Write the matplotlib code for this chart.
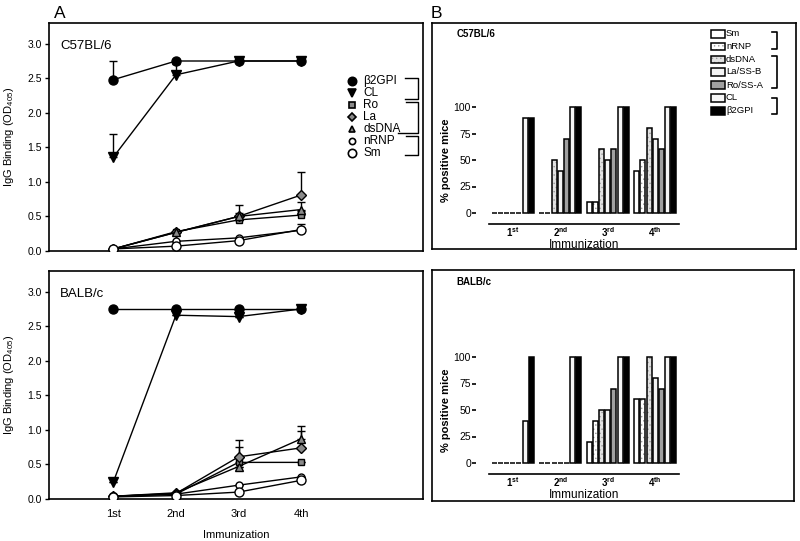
import numpy as np
import matplotlib
matplotlib.use('Agg')
import matplotlib.pyplot as plt
from matplotlib.lines import Line2D
from matplotlib.patches import Rectangle

plt.rcParams['font.family'] = ['Liberation Sans', 'DejaVu Sans']
plt.rcParams['mathtext.fontset'] = 'custom'
plt.rcParams['mathtext.rm'] = 'Liberation Sans'
plt.rcParams['mathtext.bf'] = 'Liberation Sans:bold'
plt.rcParams['hatch.linewidth'] = 0.5

# ---- panel A data (IgG binding, OD405) ----
immunizations = ['1st', '2nd', '3rd', '4th']
line_antigens = ['β2GPI', 'CL', 'Ro', 'La', 'dsDNA', 'nRNP', 'Sm']

c57_b2gpi = [2.48, 2.75, 2.75, 2.75]
c57_cl = [1.36, 2.55, 2.75, 2.75]
c57_ro = [0.03, 0.28, 0.45, 0.52]
c57_la = [0.03, 0.27, 0.50, 0.81]
c57_dsdna = [0.03, 0.27, 0.50, 0.60]
c57_nrnp = [0.03, 0.14, 0.19, 0.30]
c57_sm = [0.03, 0.07, 0.15, 0.31]
c57_err = {
    'β2GPI': [0.27, 0, 0, 0], 'CL': [0.34, 0.15, 0, 0], 'Ro': [0, 0, 0, 0.06],
    'La': [0, 0, 0.17, 0.33], 'dsDNA': [0, 0, 0.05, 0.11], 'nRNP': [0, 0, 0, 0.09], 'Sm': [0, 0, 0, 0],
}

balb_b2gpi = [2.75, 2.75, 2.75, 2.75]
balb_cl = [0.25, 2.66, 2.64, 2.75]
balb_ro = [0.04, 0.07, 0.53, 0.53]
balb_la = [0.04, 0.08, 0.61, 0.74]
balb_dsdna = [0.04, 0.09, 0.47, 0.87]
balb_nrnp = [0.04, 0.07, 0.20, 0.32]
balb_sm = [0.03, 0.05, 0.10, 0.27]
balb_err = {
    'β2GPI': [0, 0, 0, 0], 'CL': [0, 0, 0, 0], 'Ro': [0, 0, 0.22, 0],
    'La': [0, 0, 0.25, 0.25], 'dsDNA': [0, 0, 0, 0.19], 'nRNP': [0, 0, 0, 0], 'Sm': [0, 0, 0, 0],
}

# ---- panel B data (% positive mice) ----
bar_antigens = ['Sm', 'nRNP', 'dsDNA', 'La/SS-B', 'Ro/SS-A', 'CL', 'β2GPI']
c57_pos_sm = [0, 0, 10, 40]
c57_pos_nrnp = [0, 0, 10, 50]
c57_pos_dsdna = [0, 50, 60, 80]
c57_pos_la = [0, 40, 50, 70]
c57_pos_ro = [0, 70, 60, 60]
c57_pos_cl = [90, 100, 100, 100]
c57_pos_b2gpi = [90, 100, 100, 100]

balb_pos_sm = [0, 0, 20, 60]
balb_pos_nrnp = [0, 0, 40, 60]
balb_pos_dsdna = [0, 0, 50, 100]
balb_pos_la = [0, 0, 50, 80]
balb_pos_ro = [0, 0, 70, 70]
balb_pos_cl = [40, 100, 100, 100]
balb_pos_b2gpi = [100, 100, 100, 100]

bar_ticklabels = [r'$\mathbf{1^{st}}$', r'$\mathbf{2^{nd}}$', r'$\mathbf{3^{rd}}$', r'$\mathbf{4^{th}}$']

line_styles = {
    'β2GPI': dict(marker='o', mfc='black', ms=6.5),
    'CL': dict(marker='v', mfc='black', ms=6.5),
    'Ro': dict(marker='s', mfc='#8a8a8a', ms=5),
    'La': dict(marker='D', mfc='#8a8a8a', ms=5),
    'dsDNA': dict(marker='^', mfc='#8a8a8a', ms=5.5),
    'nRNP': dict(marker='o', mfc='white', ms=5),
    'Sm': dict(marker='o', mfc='white', ms=6.5),
}
bar_styles = {
    'Sm': dict(color='white', hatch=None),
    'nRNP': dict(color='white', hatch='....'),
    'dsDNA': dict(color='#e2e2e2', hatch='....'),
    'La/SS-B': dict(color='#f3f3f3', hatch=None),
    'Ro/SS-A': dict(color='#a0a0a0', hatch=None),
    'CL': dict(color='#f6f6f6', hatch=None),
    'β2GPI': dict(color='black', hatch=None),
}

W, H = 800, 541
fig = plt.figure(figsize=(8, 5.41), dpi=100)


def px_axes(l, t, r, b):
    return fig.add_axes([l / W, 1 - b / H, (r - l) / W, (b - t) / H])


def line_panel(ax, series, errs, strain, show_x):
    x = np.arange(1, 5)
    for name, vals in zip(line_antigens, series):
        st = line_styles[name]
        e = np.array(errs[name], dtype=float)
        ax.errorbar(x, vals, yerr=[np.zeros(4), e], color='black', lw=1, elinewidth=1,
                    capsize=3, capthick=1, marker=st['marker'], mfc=st['mfc'], mec='black',
                    ms=st['ms'], mew=1, zorder=3)
    ax.set_xlim(-0.03, 5.95)
    ax.set_ylim(0, 3.3)
    ax.set_yticks([0, 0.5, 1.0, 1.5, 2.0, 2.5, 3.0])
    ax.set_yticklabels(['0.0', '0.5', '1.0', '1.5', '2.0', '2.5', '3.0'])
    ax.tick_params(axis='y', labelsize=7.5, length=3, width=1, pad=2)
    if show_x:
        ax.set_xticks(x)
        ax.set_xticklabels(immunizations)
        ax.tick_params(axis='x', labelsize=8, length=0, pad=7)
        ax.set_xlabel('Immunization', fontsize=8, labelpad=8)
    else:
        ax.set_xticks([])
    for s in ax.spines.values():
        s.set_linewidth(1.2)
    ax.set_ylabel('IgG Binding (OD$_{405}$)', fontsize=8, labelpad=8)
    ax.text(0.03, 0.9, strain, transform=ax.transAxes, fontsize=9.5, va='center')


def bar_panel(ax, series, strain_ax, strain):
    g = np.arange(4)
    step = 0.13
    w = 0.105
    for k, (name, vals) in enumerate(zip(bar_antigens, series)):
        st = bar_styles[name]
        xs = g + (k - 3) * step
        if st['hatch']:
            # dotted fill drawn in grey, outline in black on top
            ax.bar(xs, vals, width=w, color=st['color'], hatch=st['hatch'],
                   edgecolor='#9a9a9a', linewidth=0, clip_on=False, zorder=2)
            ax.bar(xs, vals, width=w, fill=False, edgecolor='black', linewidth=1.1,
                   clip_on=False, zorder=3)
        else:
            ax.bar(xs, vals, width=w, color=st['color'], edgecolor='black', linewidth=1.1,
                   clip_on=False, zorder=2)
    ax.set_xlim(-0.5, 3.5)
    ax.set_ylim(0, 100)
    ax.set_yticks([0, 25, 50, 75, 100])
    ax.tick_params(axis='y', labelsize=7.5, length=3, width=1.2, pad=1)
    for lab in ax.get_yticklabels():
        lab.set_fontweight('bold')
    ax.set_xticks(g)
    ax.set_xticklabels(bar_ticklabels)
    ax.tick_params(axis='x', labelsize=7, length=0, pad=0.5)
    ax.set_xlabel('Immunization', fontsize=8.5, labelpad=0)
    ax.set_ylabel('% positive mice', fontsize=8, fontweight='bold', labelpad=2)
    ax.spines['top'].set_visible(False)
    ax.spines['right'].set_visible(False)
    ax.spines['left'].set_position(('outward', 9))
    ax.spines['left'].set_visible(False)
    ax.spines['bottom'].set_position(('outward', 8))
    ax.spines['bottom'].set_linewidth(1.2)
    ax.patch.set_alpha(0)
    strain_ax.text(25 / 364, 0.95, strain, transform=strain_ax.transAxes, fontsize=7,
                   fontweight='bold', va='center')


# ---- panel A ----
axA1 = px_axes(49, 23, 423, 251)
line_panel(axA1, [c57_b2gpi, c57_cl, c57_ro, c57_la, c57_dsdna, c57_nrnp, c57_sm],
           c57_err, 'C57BL/6', False)
axA2 = px_axes(49, 271, 423, 499)
line_panel(axA2, [balb_b2gpi, balb_cl, balb_ro, balb_la, balb_dsdna, balb_nrnp, balb_sm],
           balb_err, 'BALB/c', True)

# legend for A with brackets (figure pixel coords)
leg_y = [81, 93, 105, 117, 129, 141, 153]
for name, y in zip(line_antigens, leg_y):
    st = line_styles[name]
    fig.add_artist(Line2D([352 / W], [1 - y / H], marker=st['marker'], mfc=st['mfc'], mec='black',
                          ms=st['ms'] - 0.5, mew=1.2, ls='none'))
    fig.text(363 / W, 1 - y / H, name, fontsize=8.5, va='center')


def bracket(x, y0, y1, x0_top, x0_bot, lw=1):
    xs = [x0_top / W, x / W, x / W, x0_bot / W]
    ys = [1 - y0 / H, 1 - y0 / H, 1 - y1 / H, 1 - y1 / H]
    fig.add_artist(Line2D(xs, ys, color='black', lw=lw))


bracket(418, 78, 99, 405, 405)
bracket(418, 102, 133, 406, 398)
bracket(418, 136, 155, 406, 405)

# ---- panel B ----
frB1 = px_axes(432, 23, 796, 249)
frB2 = px_axes(432, 270, 794, 501)
for fr in (frB1, frB2):
    fr.set_xticks([])
    fr.set_yticks([])
    for s in fr.spines.values():
        s.set_linewidth(1.2)

axB1 = px_axes(489, 107, 679, 213)
bar_panel(axB1, [c57_pos_sm, c57_pos_nrnp, c57_pos_dsdna, c57_pos_la, c57_pos_ro,
                 c57_pos_cl, c57_pos_b2gpi], frB1, 'C57BL/6')
axB2 = px_axes(489, 357, 679, 463)
bar_panel(axB2, [balb_pos_sm, balb_pos_nrnp, balb_pos_dsdna, balb_pos_la, balb_pos_ro,
                 balb_pos_cl, balb_pos_b2gpi], frB2, 'BALB/c')

# legend for B
legB_y = [34, 46.5, 59.5, 72, 85, 98, 111]
for name, y in zip(bar_antigens, legB_y):
    st = bar_styles[name]
    rect_xy = (711 / W, 1 - (y + 3.5) / H)
    if st['hatch']:
        fig.add_artist(Rectangle(rect_xy, 14 / W, 7 / H, transform=fig.transFigure,
                                 facecolor=st['color'], hatch=st['hatch'], edgecolor='#9a9a9a', lw=0))
        fig.add_artist(Rectangle(rect_xy, 14 / W, 7 / H, transform=fig.transFigure,
                                 fill=False, edgecolor='black', lw=1.1))
    else:
        fig.add_artist(Rectangle(rect_xy, 14 / W, 7 / H, transform=fig.transFigure,
                                 facecolor=st['color'], edgecolor='black', lw=1.1))
    fig.text(726 / W, 1 - y / H, name, fontsize=6.8, va='center')

bracket(777, 32, 49, 772, 772, lw=1.2)
bracket(777, 56, 88, 772, 772, lw=1.2)
bracket(777, 98, 114, 772, 772, lw=1.2)

fig.text(54 / W, 1 - 13 / H, 'A', fontsize=12.5, va='center')
fig.text(431 / W, 1 - 13 / H, 'B', fontsize=12.5, va='center')

fig.savefig('out.png', dpi=100)
